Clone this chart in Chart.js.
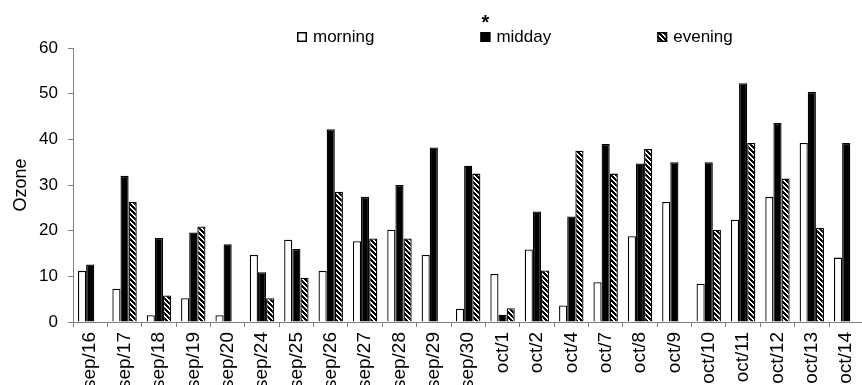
<!DOCTYPE html>
<html>
<head>
<meta charset="utf-8">
<script src="https://cdn.jsdelivr.net/npm/chart.js@4"></script>
<style>
    html, body { margin: 0; padding: 0; background: #fff; width: 862px; height: 385px; overflow: hidden; }
    #wrap { width: 874px; height: 395px; position: relative; }
</style>
</head>
<body>
<div id="wrap"><canvas id="ozoneChart"></canvas></div>
<script>
const days = ['sep/16', 'sep/17', 'sep/18', 'sep/19', 'sep/20', 'sep/24', 'sep/25', 'sep/26', 'sep/27', 'sep/28', 'sep/29', 'sep/30',
    'oct/1', 'oct/2', 'oct/4', 'oct/7', 'oct/8', 'oct/9', 'oct/10', 'oct/11', 'oct/12', 'oct/13', 'oct/14'];
const morning = [11.2, 7.3, 1.5, 5.2, 1.5, 14.7, 18.0, 11.2, 17.7, 20.2, 14.7, 2.9, 10.5, 15.9, 3.6, 8.7, 18.8, 26.3, 8.4, 22.4, 27.4, 39.2, 14.1];
const midday = [12.6, 32.0, 18.4, 19.6, 17.0, 10.9, 16.0, 42.2, 27.4, 30.0, 38.2, 34.2, 1.6, 24.2, 23.1, 39.0, 34.7, 35.0, 35.0, 52.3, 43.6, 50.4, 39.2];
const evening = [null, 26.3, 5.8, 20.9, null, 5.2, 9.7, 28.5, 18.3, 18.3, null, 32.5, 3.0, 11.3, 37.5, 32.5, 37.9, null, 20.2, 39.2, 31.4, 20.6, null];
const yTicks = [0, 10, 20, 30, 40, 50, 60];

const FONT = 'Liberation Sans, Arial, sans-serif';

// diagonal hatch for the evening series
function makeHatch() {
    const c = document.createElement('canvas');
    c.width = 5;
    c.height = 5;
    const g = c.getContext('2d');
    const img = g.createImageData(5, 5);
    for (let y = 0; y < 5; y++) {
        for (let x = 0; x < 5; x++) {
            const d = ((x - y) % 5 + 5) % 5;
            const v = d < 3 ? 0 : 255;
            const i = (y * 5 + x) * 4;
            img.data[i] = v; img.data[i + 1] = v; img.data[i + 2] = v; img.data[i + 3] = 255;
        }
    }
    g.putImageData(img, 0, 0);
    return g.createPattern(c, 'repeat');
}
const hatch = makeHatch();

// legend drawn by hand so the items can sit far apart on one row
const legendPlugin = {
    id: 'wideLegend',
    afterDraw(chart) {
        const ctx = chart.ctx;
        const items = chart.data.datasets;
        let x = 297;
        const y = 37;
        ctx.save();
        items.forEach((ds) => {
            ctx.fillStyle = ds.backgroundColor;
            ctx.fillRect(x, y - 5, 10, 10);
            ctx.strokeStyle = '#000';
            ctx.lineWidth = 1.5;
            ctx.strokeRect(x + 0.75, y - 4.25, 8.5, 8.5);
            if (ds.label === 'midday') {
                ctx.fillStyle = '#000';
                ctx.textAlign = 'center';
                ctx.textBaseline = 'middle';
                ctx.font = 'bold 20px ' + FONT;
                ctx.fillText('*', x + 5, y - 14);
            }
            ctx.font = '17px ' + FONT;
            ctx.textBaseline = 'middle';
            ctx.fillStyle = '#000';
            ctx.textAlign = 'left';
            ctx.fillText(ds.label, x + 16, y);
            x += 16 + ctx.measureText(ds.label).width + 106;
        });
        ctx.restore();
    }
};

new Chart(document.getElementById('ozoneChart').getContext('2d'), {
    type: 'bar',
    data: {
        labels: days,
        datasets: [
            { label: 'morning', data: morning, backgroundColor: '#ffffff', borderColor: '#000', borderWidth: 1.3 },
            { label: 'midday', data: midday, backgroundColor: '#000000', borderColor: '#000', borderWidth: 1.3 },
            { label: 'evening', data: evening, backgroundColor: hatch, borderColor: '#000', borderWidth: 1.3 }
        ]
    },
    options: {
        responsive: true,
        maintainAspectRatio: false,
        animation: false,
        datasets: {
            bar: { categoryPercentage: 0.71, barPercentage: 1.0 }
        },
        layout: { padding: { top: 48, left: 0, right: 0, bottom: 0 } },
        plugins: {
            legend: { display: false },
            tooltip: { enabled: false }
        },
        scales: {
            x: {
                offset: true,
                grid: { offset: true, drawOnChartArea: false, drawTicks: true, tickLength: 5, color: '#808080' },
                border: { color: '#808080', width: 1 },
                ticks: { autoSkip: false, minRotation: 90, maxRotation: 90, color: '#000', padding: 5, font: { family: FONT, size: 19 } },
                afterFit(scale) { scale.height = 73; }
            },
            y: {
                min: 0,
                max: 60,
                afterBuildTicks(scale) { scale.ticks = yTicks.map(v => ({ value: v })); },
                grid: { drawOnChartArea: false, drawTicks: true, tickLength: 5, color: '#808080' },
                border: { color: '#808080', width: 1 },
                ticks: { color: '#000', padding: 10, font: { family: FONT, size: 17 } },
                title: { display: true, text: 'Ozone', color: '#000', padding: { top: 10, bottom: 0 }, font: { family: FONT, size: 18 } },
                afterFit(scale) { scale.width = 73; }
            }
        }
    },
    plugins: [legendPlugin]
});
</script>
</body>
</html>
